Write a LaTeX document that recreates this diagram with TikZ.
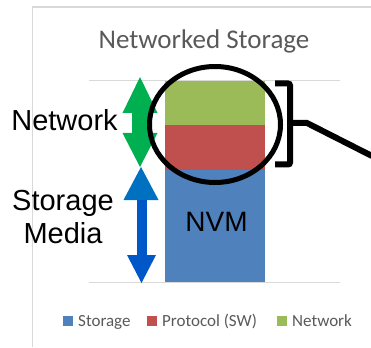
\documentclass[tikz,border=0pt]{standalone}
\usepackage{fontspec}
\setmainfont{Liberation Sans}
\newfontfamily\chartfont{Carlito}
\usetikzlibrary{shapes.geometric}

\definecolor{gridgray}{HTML}{D9D9D9}
\definecolor{labelgray}{HTML}{595959}
\definecolor{netgreen}{HTML}{9BBB59}
\definecolor{protored}{HTML}{C0504D}
\definecolor{storblue}{HTML}{4F81BD}
\definecolor{arrowgreen}{HTML}{00B050}
\definecolor{arrowblue}{HTML}{0070C0}
\definecolor{arrowdeep}{HTML}{0057C8}

\tikzset{
  gridline/.style={draw=gridgray, line width=1pt},
  bigtext/.style={font=\fontsize{29}{34}\selectfont, inner sep=0pt, anchor=base},
  legendtext/.style={font=\chartfont\fontsize{17}{20}\selectfont, text=labelgray, inner sep=0pt, anchor=base west},
  legendkey/.style={minimum size=10pt, inner sep=0pt, anchor=north west},
  thickblack/.style={draw=black, line width=6pt},
}

\begin{document}
\begin{tikzpicture}[x=1pt, y=-1pt]
\useasboundingbox (0,0) rectangle (371,347);

% chart frame
\draw[draw=gridgray, line width=1.5pt] (32.5,347) -- (32.5,7) -- (371,7);

% title
\node[font=\chartfont\fontsize{27}{32}\selectfont, text=labelgray, inner sep=0pt, anchor=base]
  (title) at (204,49) {Networked Storage};

% gridlines
\draw[gridline] (89,81) -- (340,81);
\draw[gridline] (89,282) -- (340,282);

% stacked bar
\fill[storblue] (165,170) rectangle (265,282);
\fill[protored] (165,125) rectangle (265,170);
\fill[netgreen] (165,81) rectangle (265,125);
\node[bigtext, font=\fontsize{28}{34}\selectfont] (nvm) at (216.5,231.5) {NVM};

% green double arrow (network)
\fill[arrowgreen] (140,77) -- (157.5,113) -- (148,113) -- (148,133) -- (157.5,133)
  -- (140,167) -- (122.5,133) -- (132,133) -- (132,113) -- (122.5,113) -- cycle;

% blue double arrow (storage media)
\fill[arrowblue] (141,167) -- (158.5,200) -- (123.5,200) -- cycle;
\fill[arrowdeep] (136.5,199.5) rectangle (146.5,255.5);
\fill[arrowdeep] (127,255) -- (156,255) -- (141.5,283) -- cycle;

% side labels
\node[bigtext] (netlabel) at (64.5,131) {Network};
\node[bigtext] (storlabel) at (63,210) {Storage};
\node[bigtext] (medialabel) at (63,243.5) {Media};

% magnifier lens around the network part
\node[draw=black, line width=5pt, ellipse, minimum width=131pt, minimum height=116pt,
  inner sep=0pt] (lens) at (215,124.5) {};

% bracket and pointer
\draw[thickblack, rounded corners=2pt] (275,83.5) -- (290,83.5) -- (290,164.5) -- (275,164.5);
\coordinate (handle) at (290,123);
\coordinate (bend) at (307,123);
\coordinate (tail) at (372,156);
\draw[thickblack] (handle) -- (bend) -- (tail);

% legend
\node[legendkey, fill=storblue] (k1) at (63,316) {};
\node[legendtext] (l1) at (78,326.5) {Storage};
\node[legendkey, fill=protored] (k2) at (147,316) {};
\node[legendtext] (l2) at (162,326.5) {Protocol (SW)};
\node[legendkey, fill=netgreen] (k3) at (276.5,316) {};
\node[legendtext] (l3) at (292,326.5) {Network};
\end{tikzpicture}
\end{document}
